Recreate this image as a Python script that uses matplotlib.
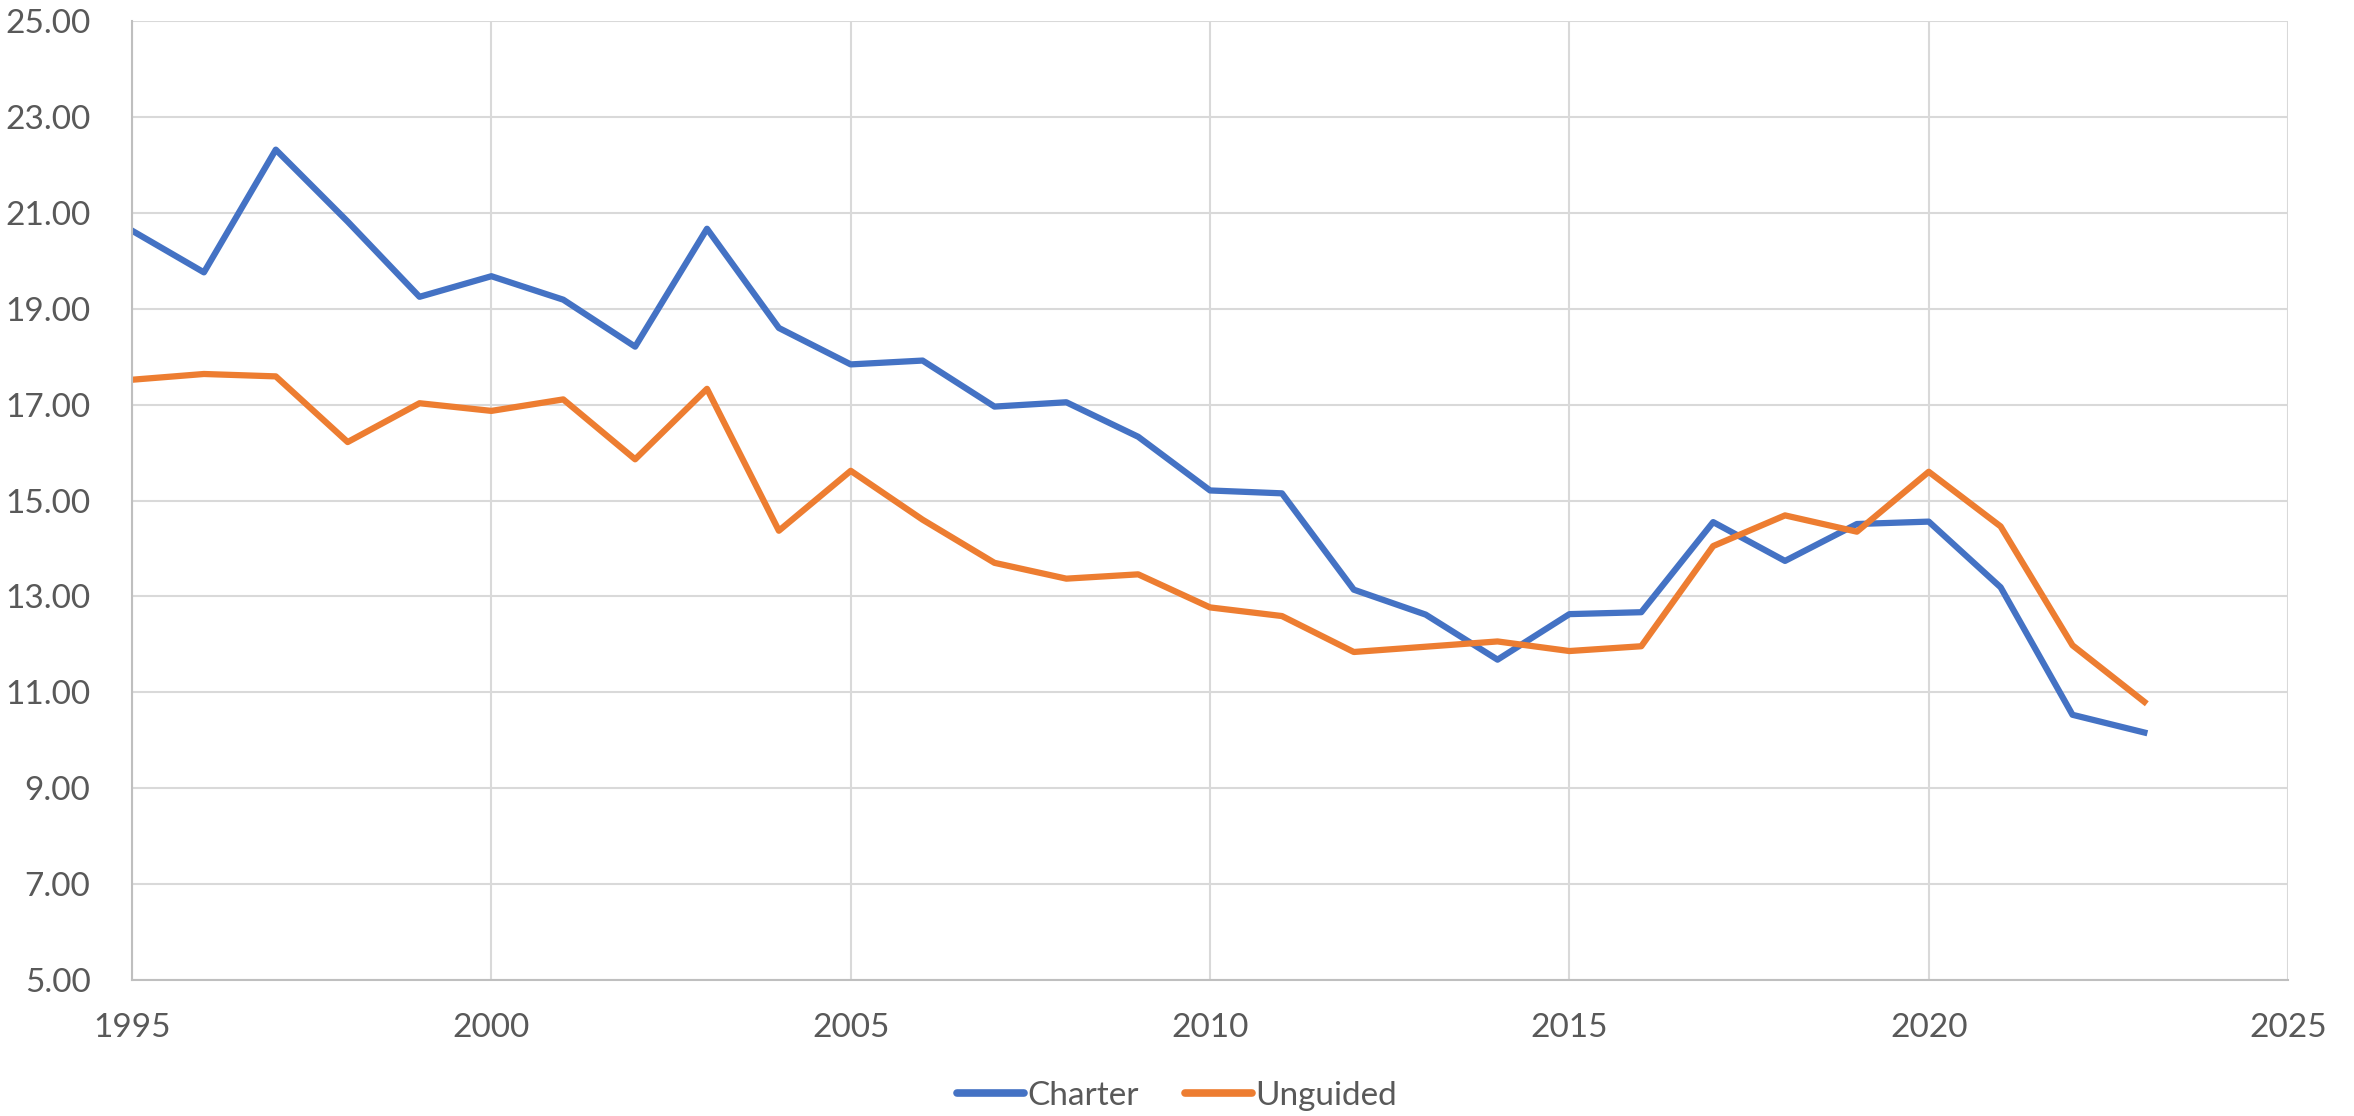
import numpy as np
import matplotlib.pyplot as plt
from matplotlib.ticker import FixedLocator, MultipleLocator, FormatStrFormatter

# years on the x axis
years = list(range(1995, 2024))

# values
charter = [20.63, 19.76, 22.32, 20.82, 19.25, 19.68, 19.19, 18.21, 20.67, 18.60,
           17.84, 17.92, 16.96, 17.05, 16.33, 15.21, 15.15, 13.14, 12.62, 11.68,
           12.63, 12.67, 14.55, 13.74, 14.51, 14.56, 13.19, 10.53, 10.16]
unguided = [17.52, 17.64, 17.59, 16.22, 17.03, 16.87, 17.11, 15.86, 17.33, 14.37,
            15.62, 14.60, 13.70, 13.37, 13.46, 12.77, 12.59, 11.84, 11.95, 12.06,
            11.86, 11.96, 14.05, 14.69, 14.35, 15.60, 14.46, 11.98, 10.80]

plt.rcParams['font.family'] = ['Lato', 'DejaVu Sans']
txt = '#595959'

fig = plt.figure(figsize=(23.54, 11.16), dpi=100)
ax = fig.add_axes([0.0561, 0.122, 0.9159, 0.859])

ax.plot(years, charter, color='#4472C4', lw=4.5, label='Charter', solid_joinstyle='round')
ax.plot(years, unguided, color='#ED7D31', lw=4.5, label='Unguided', solid_joinstyle='round')

ax.set_xlim(1995, 2025)
ax.set_ylim(5, 25)
ax.xaxis.set_major_locator(MultipleLocator(5))
ax.yaxis.set_major_locator(FixedLocator(np.arange(5, 26, 2)))
ax.yaxis.set_major_formatter(FormatStrFormatter('%.2f'))

ax.grid(True, color='#D9D9D9', lw=1.5)
ax.set_axisbelow(True)
for s in ['top', 'right']:
    ax.spines[s].set_visible(False)
for s in ['left', 'bottom']:
    ax.spines[s].set_color('#BFBFBF')
    ax.spines[s].set_linewidth(1.5)

ax.tick_params(axis='both', length=0, labelsize=24, labelcolor=txt)
ax.tick_params(axis='y', pad=30)
ax.tick_params(axis='x', pad=24)

leg = fig.legend(loc='lower center', ncol=2, frameon=False, fontsize=24,
                 labelcolor=txt, handlelength=2.0, handletextpad=0.1,
                 columnspacing=1.4, bbox_to_anchor=(0.5, -0.022))
for h in leg.get_lines():
    h.set_linewidth(5.5)
    h.set_solid_capstyle('round')

fig.savefig('out.png', dpi=100)
